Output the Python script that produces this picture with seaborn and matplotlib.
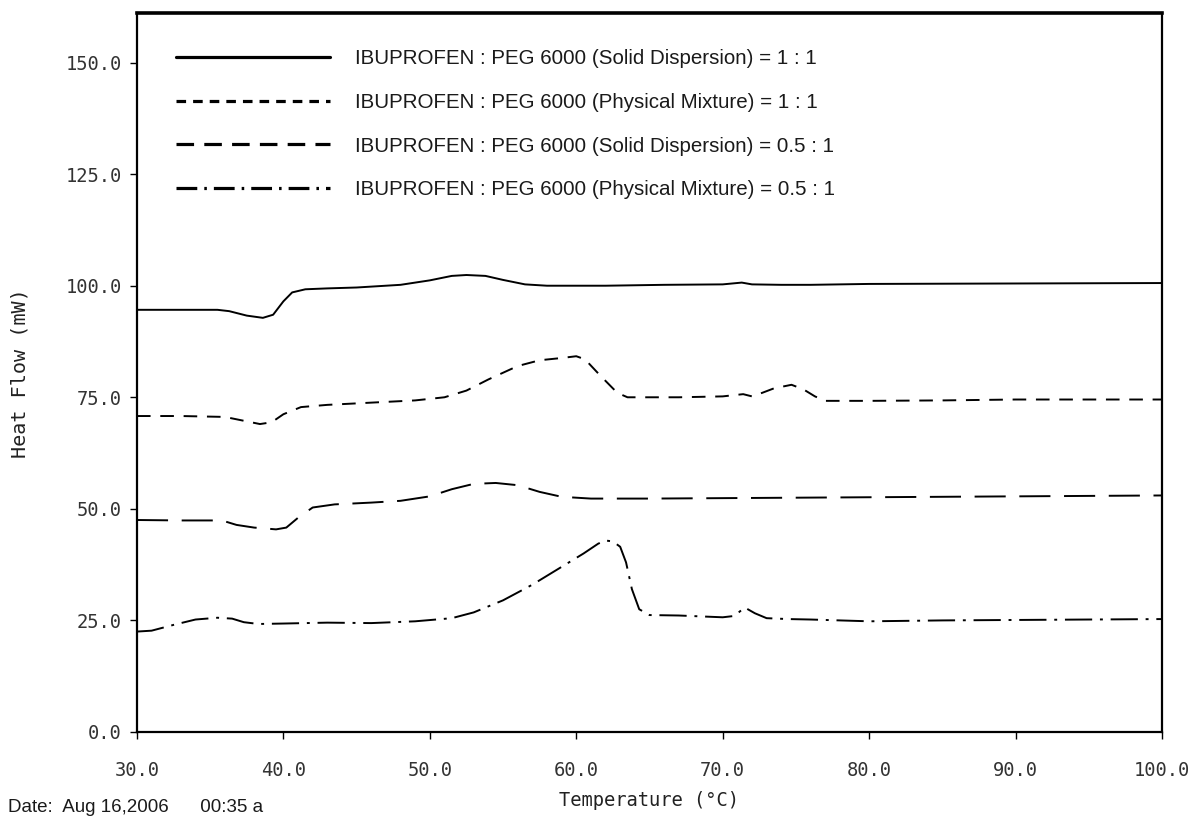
import numpy as np
import pandas as pd
import matplotlib
matplotlib.use("Agg")
import matplotlib.pyplot as plt
from matplotlib.lines import Line2D
import seaborn as sns

# ---------------- data ----------------
series_names = [
    "IBUPROFEN : PEG 6000 (Solid Dispersion) = 1 : 1",
    "IBUPROFEN : PEG 6000 (Physical Mixture) = 1 : 1",
    "IBUPROFEN : PEG 6000 (Solid Dispersion) = 0.5 : 1",
    "IBUPROFEN : PEG 6000 (Physical Mixture) = 0.5 : 1",
]

t_sd11 = [30, 33, 35.5, 36.3, 37.5, 38.6, 39.3, 40.0, 40.6, 41.5, 43, 45, 48, 50,
          51.5, 52.5, 53.8, 55, 56.5, 58, 62, 66, 70, 71.3, 72, 74, 76, 80, 90, 100]
v_sd11 = [94.6, 94.6, 94.6, 94.3, 93.3, 92.8, 93.5, 96.5, 98.5, 99.2, 99.4, 99.6, 100.2, 101.2,
          102.2, 102.4, 102.2, 101.3, 100.3, 100.0, 100.0, 100.2, 100.3, 100.7, 100.3, 100.2, 100.2, 100.4, 100.5, 100.6]

t_pm11 = [30, 33, 36, 37.2, 38.4, 39.2, 40, 41.2, 43, 46, 49, 51, 52.5, 54, 56, 57.5, 59,
          60.0, 60.6, 61.6, 62.8, 63.5, 67, 70, 71.4, 72, 72.7, 73.5, 74.7, 75.5, 76.3, 77, 80, 85, 90, 100]
v_pm11 = [70.8, 70.8, 70.6, 69.8, 69.0, 69.4, 71.2, 72.8, 73.3, 73.8, 74.3, 75.0, 76.5, 79.0, 82.0, 83.3, 83.8,
          84.2, 83.5, 80.0, 76.0, 75.0, 75.0, 75.2, 75.7, 75.2, 76.0, 77.0, 77.8, 76.8, 75.2, 74.2, 74.2, 74.3, 74.5, 74.5]

t_sd051 = [30, 33, 35.8, 36.8, 38, 39.5, 40.2, 41, 42, 43.5, 46, 48, 50, 51.5, 53, 54.5,
           56, 57.5, 59, 61, 65, 70, 80, 90, 100]
v_sd051 = [47.5, 47.4, 47.4, 46.4, 45.8, 45.4, 45.8, 48.0, 50.3, 51.0, 51.4, 51.8, 52.8, 54.4, 55.6, 55.8,
           55.3, 53.8, 52.7, 52.3, 52.3, 52.4, 52.6, 52.8, 53.0]

t_pm051 = [30, 31, 32.5, 34, 35.5, 36.5, 37.3, 38.3, 40, 43, 46, 49, 51.5, 53, 55, 57, 59,
           60.5, 61.5, 62, 62.5, 63, 63.4, 63.8, 64.3, 65, 67, 70, 70.8, 71.5, 72.2, 73, 74.5, 76, 78,
           80, 85, 90, 100]
v_pm051 = [22.5, 22.7, 24.0, 25.2, 25.6, 25.4, 24.6, 24.2, 24.3, 24.5, 24.4, 24.8, 25.5, 26.8, 29.5, 33.0, 37.0,
           40.0, 42.2, 42.9, 42.7, 41.5, 38.0, 32.0, 27.5, 26.2, 26.1, 25.7, 26.0, 27.9, 26.6, 25.5, 25.3, 25.2, 25.0,
           24.8, 25.0, 25.1, 25.3]

x_ticks = [30, 40, 50, 60, 70, 80, 90, 100]
y_ticks = [0, 25, 50, 75, 100, 125, 150]

# ---------------- build long table ----------------
frames = []
for name, t, v in zip(series_names,
                      [t_sd11, t_pm11, t_sd051, t_pm051],
                      [v_sd11, v_pm11, v_sd051, v_pm051]):
    frames.append(pd.DataFrame({"Temperature": t, "HeatFlow": v, "Sample": name}))
df = pd.concat(frames, ignore_index=True)

dash_styles = {
    series_names[0]: "",
    series_names[1]: (7, 5),
    series_names[2]: (16, 7),
    series_names[3]: (14, 4, 1.5, 4),
}
legend_dashes = {
    series_names[0]: None,
    series_names[1]: (3.0, 2.2),
    series_names[2]: (5.5, 3.2),
    series_names[3]: (6.5, 2.2, 0.8, 2.2),
}

sns.set_theme(style="white")
plt.rcParams["font.family"] = ["DejaVu Sans Mono", "DejaVu Sans"]

fig = plt.figure(figsize=(11.94, 8.23), dpi=100)
ax = fig.add_axes([0.1147, 0.1106, 0.8585, 0.873])

sns.lineplot(data=df, x="Temperature", y="HeatFlow", hue="Sample", style="Sample",
             palette=["black"] * 4, dashes=dash_styles, estimator=None, sort=True,
             linewidth=1.4, legend=False, ax=ax)

ax.set_xlim(30, 100)
ax.set_ylim(0, 161)
ax.set_xticks(x_ticks)
ax.set_xticklabels([f"{v:.1f}" for v in x_ticks])
ax.set_yticks(y_ticks)
ax.set_yticklabels([f"{v:.1f}" for v in y_ticks])
ax.tick_params(axis="both", which="both", direction="out", length=5, width=1,
               colors="black", labelsize=13.5, left=True, bottom=True)
ax.tick_params(axis="x", pad=16)
ax.tick_params(axis="y", pad=6)
for lab in ax.get_xticklabels() + ax.get_yticklabels():
    lab.set_color("#333333")

for s in ax.spines.values():
    s.set_visible(True)
    s.set_color("black")
    s.set_linewidth(1.6)
ax.spines["top"].set_linewidth(2.6)

ax.set_xlabel("Temperature (°C)", fontsize=13.5, color="#222222", labelpad=8)
ax.set_ylabel("Heat Flow (mW)", fontsize=14.5, color="#222222", labelpad=26)

handles = []
for n in series_names:
    h = Line2D([0], [0], color="black", linewidth=2.3)
    if legend_dashes[n] is not None:
        h.set_linestyle((0, legend_dashes[n]))
    handles.append(h)
leg = ax.legend(handles, series_names, loc="upper left", bbox_to_anchor=(0.02, 0.976),
                frameon=False, handlelength=7.5, handletextpad=1.2, labelspacing=1.2,
                prop={"family": ["Liberation Sans", "DejaVu Sans"], "size": 14.8})
for t in leg.get_texts():
    t.set_color("#1a1a1a")

fig.text(0.007, 0.013, "Date:  Aug 16,2006      00:35 a",
         fontsize=13.5, family=["Liberation Sans", "DejaVu Sans"], color="#1a1a1a")

fig.savefig("out.png", dpi=100, facecolor="white")
